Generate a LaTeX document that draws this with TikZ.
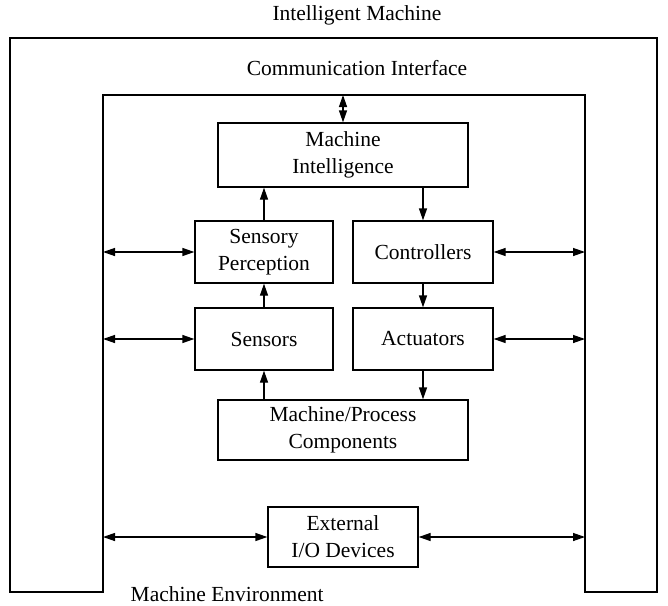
\documentclass[tikz,border=0pt]{standalone}
\usepackage{fontspec}
\setmainfont{Liberation Serif}
\usetikzlibrary{arrows.meta}
\begin{document}
\begin{tikzpicture}[x=1pt,y=-1pt,
  line width=1.3pt,
  every node/.style={font=\fontsize{21.5}{27}\selectfont},
  blockbox/.style={draw,align=center,inner sep=0pt},
  flow/.style={-{Triangle[length=12pt,width=8pt]}},
  both/.style={{Triangle[length=12pt,width=8pt]}-{Triangle[length=12pt,width=8pt]}}]
\useasboundingbox (0,0) rectangle (668,605);

% frame corners: outer boundary and inner opening
\coordinate (oTL) at (10,38);
\coordinate (oTR) at (657,38);
\coordinate (oBR) at (657,592);
\coordinate (iBR) at (585,592);
\coordinate (iTR) at (585,95);
\coordinate (iTL) at (103,95);
\coordinate (iBL) at (103,592);
\coordinate (oBL) at (10,592);
\draw (oTL) -- (oTR) -- (oBR) -- (iBR) -- (iTR) -- (iTL) -- (iBL) -- (oBL) -- cycle;

% labels
\node (title) at (357,15) {Intelligent Machine};
\node (comm) at (357,68) {Communication Interface};
\node[anchor=base west,inner sep=0pt] (env) at (130,601) {Machine Environment};

% blocks
\node[blockbox,minimum width=250pt,minimum height=64pt] (mi) at (343,155) {Machine\\Intelligence};
\node[blockbox,minimum width=138pt,minimum height=62pt] (sp) at (264,252) {Sensory\\Perception};
\node[blockbox,minimum width=140pt,minimum height=62pt] (ctl) at (423,252) {Controllers};
\node[blockbox,minimum width=138pt,minimum height=62pt] (sen) at (264,339) {Sensors};
\node[blockbox,minimum width=140pt,minimum height=62pt] (act) at (423,339) {Actuators};
\node[blockbox,minimum width=250pt,minimum height=60pt] (mpc) at (343,430) {Machine/Process\\Components};
\node[blockbox,minimum width=150pt,minimum height=60pt] (eio) at (343,537) {External\\I/O Devices};

% internal signal flow
\draw[both] (mi.north) -- (mi.north |- iTL);
\draw[flow] (sp.north) -- (sp.north |- mi.south);
\draw[flow] (ctl.north |- mi.south) -- (ctl.north);
\draw[flow] (sen.north) -- (sp.south);
\draw[flow] (ctl.south) -- (act.north);
\draw[flow] (sen.south |- mpc.north) -- (sen.south);
\draw[flow] (act.south) -- (act.south |- mpc.north);

% links to the interface
\draw[both] (sp.west -| iTL) -- (sp.west);
\draw[both] (sen.west -| iTL) -- (sen.west);
\draw[both] (ctl.east) -- (ctl.east -| iTR);
\draw[both] (act.east) -- (act.east -| iTR);
\draw[both] (eio.west -| iTL) -- (eio.west);
\draw[both] (eio.east) -- (eio.east -| iTR);
\end{tikzpicture}
\end{document}
